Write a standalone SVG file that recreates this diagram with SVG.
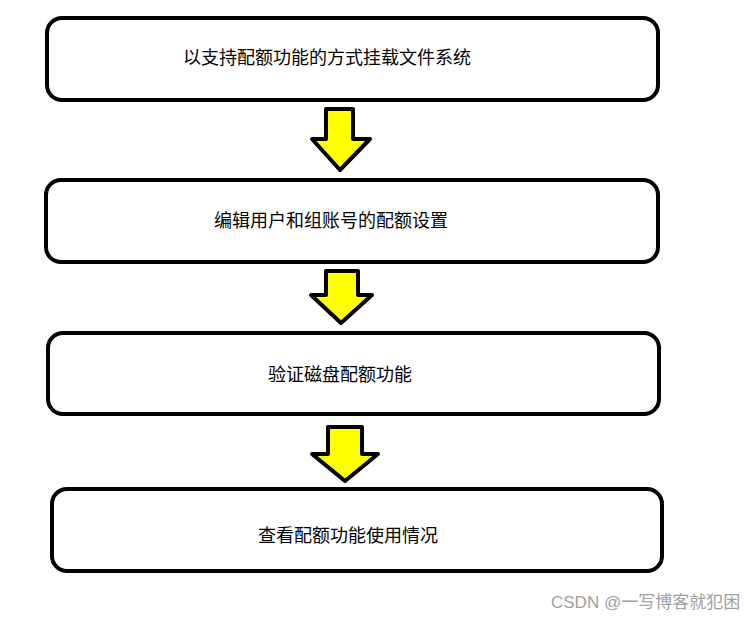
<svg xmlns="http://www.w3.org/2000/svg" width="756" height="620" viewBox="0 0 756 620">
<style>
.box{fill:#fff;stroke:#000;stroke-width:4}
.lbl{font-family:"Liberation Sans","Noto Sans CJK SC",sans-serif;font-size:18px;fill:#000;text-anchor:middle}
.arr{fill:#ffff00;stroke:#000;stroke-width:4;stroke-linejoin:round}
.wm{font-family:"Liberation Sans","Noto Sans CJK SC",sans-serif;font-size:17px;fill:#a0a0a0}
</style>
<rect width="756" height="620" fill="#fff"/>
<g id="n1"><rect class="box" x="47" y="18" width="611" height="82" rx="15"/><text class="lbl" x="327" y="64">以支持配额功能的方式挂载文件系统</text></g>
<g id="n2"><rect class="box" x="46" y="180" width="612" height="82" rx="15"/><text class="lbl" x="331" y="227">编辑用户和组账号的配额设置</text></g>
<g id="n3"><rect class="box" x="48" y="333" width="611" height="81" rx="15"/><text class="lbl" x="340" y="381">验证磁盘配额功能</text></g>
<g id="n4"><rect class="box" x="52" y="489" width="610" height="82" rx="15"/><text class="lbl" x="348" y="542">查看配额功能使用情况</text></g>
<g id="connectors">
<polygon class="arr" points="326,109 353,109 353,139 370,139 340,170 312,139 326,139"/>
<polygon class="arr" points="326,271 358,271 358,295 372,295 341,323 311,295 326,295"/>
<polygon class="arr" points="328,427 362,427 362,454 378,454 345,481 312,454 328,454"/>
</g>
<text class="wm" x="551" y="608">CSDN @一写博客就犯困</text>
</svg>
